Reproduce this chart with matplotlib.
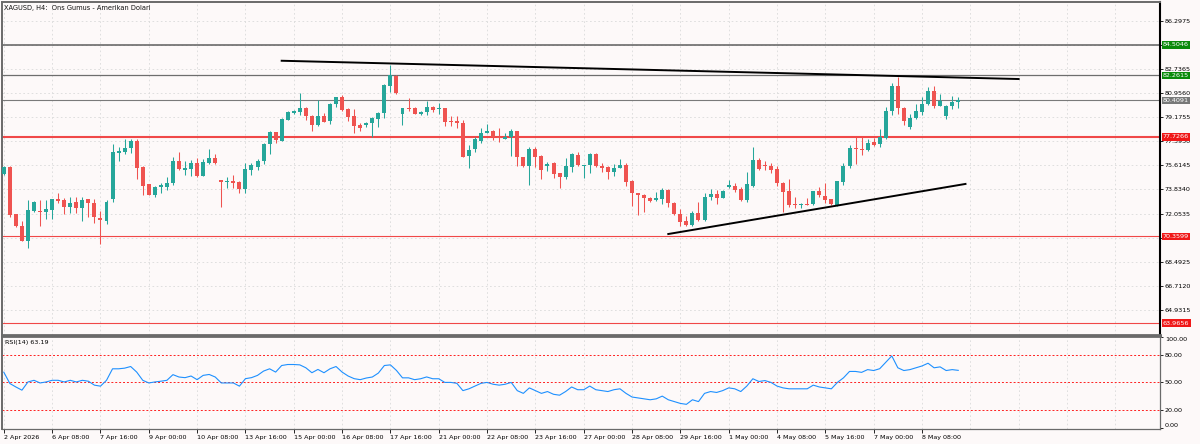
import matplotlib
matplotlib.use("Agg")
import matplotlib.pyplot as plt
import matplotlib.transforms as mtransforms
import numpy as np

# XAGUSD H4 - okunan degerler (grafikten)
opens = [74.97, 75.51, 72.00, 71.15, 70.03, 72.26, 72.23, 72.19, 72.32, 73.11,
         73.05, 72.52, 72.93, 72.49, 73.11, 72.81, 71.75, 71.53, 73.15, 76.55,
         76.58, 76.87, 77.43, 75.51, 74.24, 73.45, 73.99, 73.99, 74.33, 75.93,
         75.25, 75.34, 75.76, 74.85, 75.76, 76.18, 74.53, 74.38, 74.46, 74.41,
         73.84, 75.27, 75.47, 75.93, 77.17, 78.10, 77.43, 78.96, 79.50, 79.53,
         79.83, 79.28, 78.59, 79.28, 78.91, 80.12, 80.64, 79.78, 79.26, 78.59,
         78.59, 78.72, 79.04, 79.46, 81.50, 82.21, 79.41, 79.83, 79.83, 79.41,
         79.53, 79.94, 79.78, 79.83, 78.89, 78.89, 78.72, 76.33, 76.82, 77.43,
         77.98, 78.17, 77.73, 77.58, 77.73, 78.15, 76.25, 75.56, 76.80, 76.33,
         75.56, 75.81, 75.03, 74.77, 75.51, 76.38, 75.59, 75.64, 76.45, 75.56,
         75.51, 75.14, 75.44, 75.64, 74.46, 73.59, 73.42, 73.18, 73.05, 73.11,
         73.79, 72.81, 72.02, 71.50, 71.21, 72.07, 71.58, 73.25, 73.50, 73.23,
         73.99, 74.09, 73.84, 73.05, 74.09, 76.01, 75.64, 75.56, 75.32, 74.33,
         73.72, 72.76, 72.66, 72.76, 72.74, 73.72, 73.37, 73.11, 72.68, 74.41,
         75.56, 76.87, 76.82, 76.75, 77.32, 77.17, 77.66, 79.63, 81.47, 79.83,
         78.47, 79.09, 79.58, 80.12, 81.10, 80.02, 79.28, 80.00, 80.30]
highs = [75.56, 75.56, 72.02, 71.50, 73.05, 72.98, 73.05, 73.05, 73.11, 73.55,
         73.18, 73.25, 73.25, 73.30, 73.11, 73.11, 72.24, 73.05, 77.19, 76.95,
         77.56, 77.56, 77.56, 75.56, 74.24, 74.09, 74.33, 74.73, 76.25, 76.62,
         75.93, 76.01, 76.18, 76.06, 76.82, 76.43, 74.53, 74.73, 74.90, 74.46,
         75.76, 75.76, 76.06, 77.24, 78.15, 78.10, 79.11, 79.65, 79.70, 80.98,
         79.94, 79.33, 80.44, 79.46, 80.24, 80.68, 80.81, 79.83, 79.75, 78.76,
         78.84, 79.21, 79.58, 81.62, 83.03, 82.29, 79.83, 80.61, 79.92, 79.63,
         80.37, 80.02, 80.20, 79.83, 79.28, 79.28, 78.96, 77.12, 77.73, 78.35,
         78.67, 78.22, 78.35, 78.02, 78.30, 78.15, 76.25, 76.95, 76.95, 76.38,
         75.88, 75.88, 75.03, 76.18, 76.50, 76.62, 75.64, 76.55, 76.50, 75.76,
         75.56, 75.71, 76.08, 75.76, 74.53, 73.59, 73.47, 73.30, 73.62, 73.92,
         73.89, 72.93, 72.39, 71.87, 72.24, 72.93, 73.59, 73.87, 73.79, 73.79,
         74.53, 74.29, 74.04, 75.14, 76.95, 76.13, 75.93, 75.76, 75.56, 74.41,
         74.58, 73.25, 72.85, 73.23, 73.72, 74.04, 74.29, 73.13, 74.46, 75.76,
         77.12, 77.68, 77.68, 77.56, 77.61, 78.30, 79.94, 81.67, 82.16, 79.90,
         79.41, 80.14, 80.68, 81.38, 81.50, 80.86, 80.07, 80.73, 80.64]
lows = [74.90, 71.80, 71.06, 69.99, 69.53, 72.19, 71.15, 71.63, 71.65, 72.81,
        72.02, 72.12, 72.07, 71.53, 71.78, 71.38, 69.78, 71.28, 72.93, 75.96,
        76.45, 76.50, 74.63, 73.42, 73.42, 73.28, 73.59, 73.79, 74.16, 75.27,
        74.90, 74.85, 74.77, 74.83, 75.71, 75.71, 72.56, 73.92, 73.96, 73.59,
        73.55, 74.90, 75.27, 75.71, 76.43, 77.24, 77.41, 78.96, 79.41, 79.33,
        78.96, 78.15, 78.52, 78.79, 78.67, 79.90, 79.63, 78.91, 78.02, 78.17,
        78.47, 77.73, 78.47, 79.09, 81.05, 80.88, 78.59, 79.65, 79.41, 79.33,
        79.33, 79.58, 79.41, 78.54, 78.54, 78.35, 76.23, 75.40, 76.62, 77.29,
        77.98, 77.49, 77.36, 77.54, 76.33, 75.56, 75.49, 74.16, 75.51, 74.58,
        75.22, 74.66, 73.92, 74.58, 75.14, 75.56, 74.66, 75.07, 75.47, 75.14,
        74.58, 74.85, 75.40, 74.11, 72.63, 71.95, 72.14, 72.93, 72.98, 72.76,
        72.56, 71.95, 71.15, 71.15, 71.15, 71.53, 71.53, 73.05, 72.76, 73.18,
        73.92, 73.67, 73.00, 72.93, 74.04, 75.27, 75.27, 75.03, 74.09, 72.19,
        72.56, 72.49, 72.44, 72.68, 72.68, 73.30, 72.85, 72.68, 72.61, 74.16,
        75.40, 75.71, 76.38, 76.70, 77.04, 76.95, 77.56, 79.33, 79.38, 78.59,
        78.28, 79.01, 79.33, 80.07, 79.87, 80.02, 79.06, 79.78, 79.87]
closes = [75.49, 71.95, 71.13, 70.03, 72.32, 72.93, 72.20, 72.39, 73.11, 73.00,
          72.56, 72.85, 72.49, 73.05, 72.81, 71.78, 71.55, 72.88, 76.60, 76.65,
          76.92, 77.41, 75.44, 74.09, 73.45, 74.04, 74.14, 74.33, 75.93, 75.34,
          75.44, 75.76, 74.85, 75.88, 76.18, 75.76, 74.41, 74.48, 74.33, 73.84,
          75.32, 75.64, 75.96, 77.17, 78.10, 77.49, 79.04, 79.58, 79.65, 79.87,
          79.26, 78.59, 79.28, 78.84, 80.14, 80.64, 79.70, 79.21, 78.54, 78.39,
          78.76, 79.13, 79.46, 81.55, 82.29, 80.93, 79.83, 79.75, 79.41, 79.58,
          79.94, 79.70, 79.83, 78.84, 78.84, 78.72, 76.25, 76.75, 77.56, 78.02,
          78.17, 77.68, 77.61, 77.73, 78.15, 76.21, 75.56, 76.80, 76.25, 75.27,
          75.71, 74.95, 74.77, 75.56, 76.43, 75.64, 75.64, 76.45, 75.56, 75.44,
          75.14, 75.44, 75.64, 74.41, 73.55, 73.42, 73.18, 73.00, 73.18, 73.79,
          72.81, 72.02, 71.45, 71.21, 72.07, 71.58, 73.25, 73.50, 73.23, 73.74,
          74.16, 73.79, 73.05, 74.21, 76.01, 75.34, 75.56, 75.27, 74.29, 73.67,
          72.68, 72.66, 72.76, 72.71, 73.72, 73.42, 73.05, 72.76, 74.46, 75.56,
          76.87, 76.82, 76.75, 77.24, 77.12, 77.68, 79.63, 81.47, 79.83, 78.91,
          79.09, 79.63, 80.14, 81.13, 80.02, 80.37, 80.02, 80.27, 80.41]
rsi = [61.2, 48.8, 45.0, 41.5, 50.5, 52.3, 49.4, 50.5, 52.3, 52.3,
       50.5, 52.3, 50.5, 52.3, 51.3, 47.0, 45.9, 52.3, 64.9, 64.9,
       65.6, 67.4, 61.3, 52.3, 49.4, 50.5, 51.3, 52.3, 58.5, 55.9,
       55.2, 57.0, 53.0, 57.7, 58.7, 55.9, 49.4, 49.4, 49.4, 45.9,
       54.1, 55.2, 57.7, 62.4, 64.9, 61.3, 68.5, 69.6, 69.6, 69.2,
       66.0, 60.6, 64.2, 60.6, 64.9, 67.4, 61.3, 57.0, 54.1, 53.0,
       54.8, 55.9, 60.2, 68.5, 69.2, 63.1, 55.0, 55.0, 53.0, 54.0,
       56.0, 54.0, 54.0, 50.0, 50.0, 49.0, 41.0, 43.0, 46.0, 49.0,
       50.0, 48.0, 47.0, 48.0, 50.0, 41.0, 38.0, 44.0, 41.0, 38.0,
       40.0, 37.0, 36.0, 40.0, 45.0, 42.0, 42.0, 46.0, 42.0, 41.0,
       40.0, 42.0, 43.0, 38.0, 34.0, 33.0, 32.0, 31.0, 32.0, 35.0,
       31.0, 29.0, 27.0, 26.0, 31.0, 29.0, 38.0, 40.0, 39.0, 41.0,
       44.0, 43.0, 40.0, 46.0, 54.0, 51.0, 52.0, 50.0, 46.0, 44.0,
       43.0, 43.0, 43.0, 43.0, 47.0, 45.0, 44.0, 43.0, 50.0, 55.0,
       62.0, 62.0, 61.0, 64.0, 63.0, 65.0, 72.0, 79.0, 66.0, 63.0,
       64.0, 66.0, 68.0, 71.0, 66.0, 67.0, 63.0, 64.0, 63.19]

time_labels = ["2 Apr 2026", "6 Apr 08:00", "7 Apr 16:00", "9 Apr 00:00", "10 Apr 08:00",
               "13 Apr 16:00", "15 Apr 00:00", "16 Apr 08:00", "17 Apr 16:00", "21 Apr 00:00",
               "22 Apr 08:00", "23 Apr 16:00", "27 Apr 00:00", "28 Apr 08:00", "29 Apr 16:00",
               "1 May 00:00", "4 May 08:00", "5 May 16:00", "7 May 00:00", "8 May 08:00"]
price_ticks = [86.2975, 84.5170, 82.7365, 80.9560, 79.1755, 77.3950, 75.6145,
               73.8340, 72.0535, 70.2730, 68.4925, 66.7120, 64.9315]
green_levels = [84.5046, 82.2615]
bid_price = 80.4091
red_levels = [77.7266, 70.3599, 63.9656]
red_widths = [1.5, 0.8, 0.8]
# trend cizgileri: (bar, fiyat)
upper_trend = [(46, 83.34), (168, 81.99)]
lower_trend = [(110, 70.54), (159.2, 74.24)]
rsi_levels = [80, 50, 20]

BG = "#fdf9f9"
UP = "#26a69a"
DN = "#ef5350"
FS = 4.6

fig = plt.figure(figsize=(12, 4.44), dpi=100, facecolor=BG)
ax = fig.add_axes([2 / 1200, 1 - 335 / 444, 1158 / 1200, 333 / 444], facecolor=BG)
ax2 = fig.add_axes([2 / 1200, 1 - 429 / 444, 1158 / 1200, 93 / 444], facecolor=BG, sharex=ax)

o = np.array(opens)
h = np.array(highs)
l = np.array(lows)
c = np.array(closes)
x = np.arange(len(c))
cols = np.where(c >= o, UP, DN)

# grid
grid_kw = dict(color="#dadada", ls=(0, (2, 3)), lw=0.6, zorder=0)
xt = np.arange(0, 8 * len(time_labels), 8)
for xv in np.arange(0, 192, 8):
    ax.axvline(xv, **grid_kw)
    ax2.axvline(xv, **grid_kw)
for p in price_ticks:
    ax.axhline(p, **grid_kw)

# seviye cizgileri
ax.axhline(green_levels[0], color="#5e5e5e", lw=1.1, zorder=1)
ax.axhline(green_levels[1], color="#6e6e6e", lw=0.9, zorder=1)
ax.axhline(bid_price, color="#7a7a7a", lw=0.8, zorder=1)
for lv, lw in zip(red_levels, red_widths):
    ax.axhline(lv, color="#f04848", lw=lw, zorder=1)

# mumlar
ax.vlines(x, l, h, colors=cols, lw=0.75, zorder=3)
ax.bar(x, np.maximum(np.abs(c - o), 0.04), bottom=np.minimum(o, c), width=0.66,
       color=cols, lw=0, zorder=4)

# trend cizgileri
for tl in (upper_trend, lower_trend):
    ax.plot([tl[0][0], tl[1][0]], [tl[0][1], tl[1][1]], color="black", lw=1.4, zorder=5)

ax.set_xlim(-0.3, 191.4)
ax.set_ylim(63.08, 87.68)

# fiyat ekseni
ax.yaxis.tick_right()
ax.set_yticks(price_ticks)
ax.set_yticklabels(["%.4f" % p for p in price_ticks])
ax.tick_params(axis="y", direction="out", length=2.5, width=0.6, labelsize=FS, pad=1,
               colors="black")
ax.tick_params(axis="x", bottom=False, labelbottom=False)

trans = mtransforms.blended_transform_factory(ax.transAxes, ax.transData)
box_items = [(p, "#0a8a0a") for p in green_levels] + [(bid_price, "#787878")] + \
            [(p, "#f01818") for p in red_levels]
for p, fc in box_items:
    ax.text(1.0025, p, "%.4f" % p, transform=trans, fontsize=FS, color="white",
            va="center", ha="left", zorder=10, clip_on=False,
            bbox=dict(boxstyle="square,pad=0.2", fc=fc, ec="none"))

for side in ["left", "top"]:
    ax.spines[side].set_color("#6a6a6a")
    ax.spines[side].set_linewidth(1.4)
ax.spines["bottom"].set_color("#6a6a6a")
ax.spines["bottom"].set_linewidth(2.0)
ax.spines["right"].set_color("black")
ax.spines["right"].set_linewidth(1.5)

fig.text(4 / 1200, 1 - 8 / 444, "XAGUSD, H4:  Ons Gumus - Amerikan Dolari",
         fontsize=4.8, va="center", ha="left", color="#111111")

# RSI
for lv in rsi_levels:
    ax2.axhline(lv, color="#ff2020", ls=(0, (2, 2)), lw=0.7, zorder=1)
ax2.plot(x, rsi, color="#1e90ff", lw=0.8, zorder=3)
ax2.set_ylim(-1, 100.8)
ax2.yaxis.tick_right()
ax2.set_yticks([0, 20, 50, 80, 100])
ax2.set_yticklabels(["0.00", "20.00", "50.00", "80.00", "100.00"])
ax2.tick_params(axis="y", direction="out", length=2.5, width=0.6, labelsize=FS, pad=1)
tl_y = ax2.get_yticklabels()
tl_y[0].set_va("bottom")
tl_y[-1].set_va("top")
ax2.set_xticks(xt)
ax2.set_xticklabels(time_labels, ha="left")
ax2.tick_params(axis="x", direction="out", length=3, width=0.6, labelsize=FS, pad=1.5)
ax2.text(0.003, 0.925, "RSI(14) %.2f" % rsi[-1], transform=ax2.transAxes,
         fontsize=FS, va="center", ha="left")
for side in ["left", "bottom", "right"]:
    ax2.spines[side].set_color("#6a6a6a")
    ax2.spines[side].set_linewidth(0.9)
ax2.spines["left"].set_linewidth(1.4)
ax2.spines["top"].set_color("#6a6a6a")
ax2.spines["top"].set_linewidth(2.0)

fig.savefig("out.png", dpi=100, facecolor=BG)
